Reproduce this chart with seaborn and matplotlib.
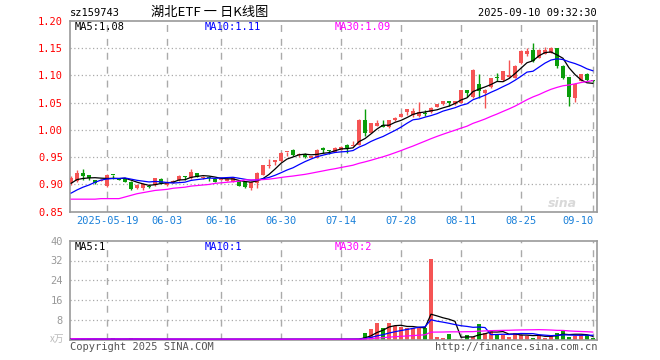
import numpy as np
import pandas as pd
import matplotlib
matplotlib.use("Agg")
import matplotlib.pyplot as plt
import seaborn as sns

# ---------------- data ----------------
start_date = "2025-05-09"
end_date = "2025-09-10"
holidays = ["2025-06-02"]

opens = [0.902,0.906,0.921,0.917,0.908,0.907,0.897,0.918,0.910,0.911,
         0.905,0.893,0.893,0.898,0.899,0.910,0.899,0.903,0.908,0.915,
         0.911,0.921,0.911,0.914,0.910,0.909,0.907,0.905,0.906,0.904,
         0.893,0.903,0.918,0.933,0.942,0.943,0.959,0.964,0.954,0.956,
         0.949,0.949,0.967,0.963,0.960,0.964,0.973,0.970,0.973,1.019,
         0.995,1.008,1.010,1.005,1.018,1.024,1.033,1.027,1.025,1.030,
         1.033,1.043,1.047,1.053,1.047,1.050,1.073,1.060,1.085,1.067,
         1.078,1.096,1.091,1.097,1.096,1.122,1.140,1.147,1.133,1.140,
         1.142,1.150,1.118,1.097,1.059,1.090,1.102,1.091]
highs = [0.915,0.926,0.929,0.918,0.909,0.910,0.919,0.918,0.911,0.912,
         0.906,0.900,0.902,0.899,0.912,0.911,0.906,0.908,0.917,0.915,
         0.928,0.921,0.915,0.916,0.911,0.912,0.911,0.914,0.907,0.905,
         0.906,0.922,0.936,0.947,0.944,0.959,0.960,0.965,0.958,0.957,
         0.953,0.965,0.969,0.964,0.968,0.970,0.974,0.980,1.020,1.038,
         1.013,1.019,1.019,1.019,1.023,1.031,1.039,1.041,1.052,1.037,
         1.042,1.048,1.054,1.054,1.054,1.074,1.074,1.111,1.102,1.075,
         1.096,1.104,1.109,1.128,1.119,1.146,1.150,1.160,1.148,1.152,
         1.152,1.151,1.119,1.098,1.087,1.103,1.105,1.092]
lows = [0.899,0.905,0.909,0.909,0.900,0.906,0.896,0.910,0.908,0.904,
        0.890,0.892,0.890,0.893,0.898,0.901,0.898,0.902,0.907,0.909,
        0.910,0.913,0.910,0.907,0.904,0.908,0.906,0.904,0.897,0.893,
        0.890,0.894,0.917,0.931,0.935,0.942,0.952,0.953,0.950,0.949,
        0.948,0.948,0.958,0.956,0.959,0.963,0.958,0.970,0.972,0.989,
        0.994,1.007,1.005,1.004,1.017,1.023,1.027,1.023,1.023,1.026,
        1.032,1.042,1.046,1.044,1.046,1.049,1.060,1.059,1.058,1.041,
        1.077,1.090,1.090,1.096,1.095,1.121,1.136,1.124,1.132,1.139,
        1.141,1.114,1.094,1.044,1.052,1.089,1.089,1.088]
closes = [0.912,0.921,0.916,0.911,0.902,0.908,0.918,0.917,0.909,0.905,
          0.891,0.899,0.901,0.896,0.911,0.902,0.905,0.907,0.916,0.914,
          0.923,0.914,0.914,0.912,0.905,0.911,0.910,0.913,0.898,0.895,
          0.905,0.921,0.935,0.936,0.944,0.958,0.960,0.954,0.956,0.950,
          0.952,0.964,0.964,0.962,0.967,0.969,0.967,0.971,1.019,0.995,
          1.012,1.012,1.006,1.018,1.022,1.030,1.038,1.035,1.033,1.029,
          1.041,1.047,1.053,1.049,1.053,1.073,1.067,1.110,1.072,1.073,
          1.095,1.095,1.108,1.101,1.118,1.145,1.145,1.126,1.147,1.147,
          1.151,1.118,1.095,1.060,1.085,1.102,1.091,1.090]
volumes = [0.4,0.3,0.3,0.3,0.2,0.2,0.2,0.5,0.2,0.2,
           0.5,0.2,0.2,0.2,0.2,0.2,0.2,0.2,0.2,0.2,
           0.2,0.2,0.2,0.2,0.2,0.2,0.2,0.2,0.2,0.2,
           0.2,0.2,0.2,0.2,0.2,0.2,0.2,0.2,0.2,0.2,
           0.2,0.2,0.2,0.2,0.2,0.2,0.3,0.2,0.3,2.8,
           4.3,6.9,4.8,6.9,5.5,5.0,4.6,4.6,5.2,4.6,
           32.5,1.2,0.8,2.3,0.3,0.3,1.9,0.9,6.3,2.6,
           3.9,1.7,1.9,1.2,2.8,1.9,1.5,0.8,1.9,0.8,
           1.9,2.8,3.9,0.9,1.5,1.9,1.9,0.5]

# moving-average values before a full window exists
ma5_head = [0.902, 0.909, 0.911, 0.912]
ma10_head = [0.884, 0.890, 0.895, 0.899, 0.904, 0.908, 0.910, 0.911, 0.911]
ma30_head = [0.873, 0.873, 0.873, 0.873, 0.873, 0.874, 0.874, 0.874, 0.874, 0.877,
             0.880, 0.883, 0.885, 0.887, 0.889, 0.890, 0.891, 0.893, 0.894, 0.895,
             0.897, 0.898, 0.899, 0.900, 0.902, 0.903, 0.904, 0.905, 0.906]

tick_dates = ["2025-05-19", "2025-06-03", "2025-06-16", "2025-06-30", "2025-07-14",
              "2025-07-28", "2025-08-11", "2025-08-25", "2025-09-10"]
tick_labels = ["2025-05-19", "06-03", "06-16", "06-30", "07-14", "07-28",
               "08-11", "08-25", "09-10"]
price_ticks = [0.85, 0.90, 0.95, 1.00, 1.05, 1.10, 1.15, 1.20]
vol_ticks = [8, 16, 24, 32, 40]

price_ma_labels = ["MA5:1.08", "MA10:1.11", "MA30:1.09"]
vol_ma_labels = ["MA5:1", "MA10:1", "MA30:2"]
title_code = "sz159743"
title_text = "湖北ETF 一 日K线图"
timestamp = "2025-09-10 09:32:30"
copyright_text = "Copyright 2025 SINA.COM"
url_text = "http://finance.sina.com.cn"
vol_unit = "x万"
watermark = "sina"

# ---------------- derived ----------------
dates = pd.bdate_range(start_date, end_date)
dates = dates[~dates.isin(pd.to_datetime(holidays))]
idx = np.arange(len(dates))
tick_pos = [int(np.where(dates == pd.Timestamp(d))[0][0]) for d in tick_dates]

o = np.array(opens); h = np.array(highs); l = np.array(lows); c = np.array(closes)
v = np.array(volumes)
s = pd.Series(c)
ma5 = s.rolling(5).mean().to_numpy(); ma5[:len(ma5_head)] = ma5_head
ma10 = s.rolling(10).mean().to_numpy(); ma10[:len(ma10_head)] = ma10_head
ma30 = s.rolling(30).mean().to_numpy(); ma30[:len(ma30_head)] = ma30_head
vs = pd.Series(v)
vma5 = vs.rolling(5, min_periods=1).mean().to_numpy()
vma10 = vs.rolling(10, min_periods=1).mean().to_numpy()
vma30 = vs.rolling(30, min_periods=1).mean().to_numpy()

RED = "#f55454"
GREEN = "#0a9d0a"
up = c >= o
colors = np.where(up, RED, GREEN)

# ---------------- plotting ----------------
sns.set_theme(style="white")
plt.rcParams["font.family"] = ["DejaVu Sans Mono", "DejaVu Sans"]

W, H = 660, 360
fig = plt.figure(figsize=(6.6, 3.6), dpi=100)
fig.patch.set_facecolor("white")

def fx(x):
    return x / W

def fy(y):
    return 1 - y / H

L, R = 70, 597
ax = fig.add_axes([fx(L), fy(211.7), (R - L) / W, (211.7 - 21) / H])
axv = fig.add_axes([fx(L), fy(339.7), (R - L) / W, (339.7 - 240.7) / H])

xlim = (-0.17, len(idx) - 1 + 0.67)
GRID = "#aaaaaa"
SPINE = "#999999"

for a in (ax, axv):
    a.set_xlim(*xlim)
    a.set_facecolor("white")
    for sp in a.spines.values():
        sp.set_color(SPINE)
        sp.set_linewidth(1.2)
        sp.set_visible(True)
    a.set_xticks([])
    a.tick_params(axis="both", length=0)
    for t in tick_pos:
        a.axvline(t, color=GRID, lw=1.0, ls=(0, (5, 5)), zorder=0)

# watermark (behind the data)
ax.text(0.935, 0.045, watermark, transform=ax.transAxes, color="#d9d9d9", fontsize=9,
        ha="center", va="center", style="italic", weight="bold", family="DejaVu Sans",
        zorder=1)

# price panel
ax.set_ylim(price_ticks[0], price_ticks[-1])
for p in price_ticks[1:-1]:
    ax.axhline(p, color=GRID, lw=0.9, ls=(0, (1, 2)), zorder=0)
ax.set_yticks(price_ticks)
ax.set_yticklabels([f"{p:.2f}" for p in price_ticks], color="red", fontsize=7.5)
ax.tick_params(axis="y", pad=5)

ax.vlines(idx, l, h, colors=colors, lw=1.0, zorder=2)
ax.bar(idx, np.maximum(np.abs(c - o), 0.0015), bottom=np.minimum(o, c),
       width=0.8, color=colors, linewidth=0, zorder=3)

sns.lineplot(x=idx, y=ma5, ax=ax, color="black", lw=0.9, zorder=4)
sns.lineplot(x=idx, y=ma10, ax=ax, color="#0000ff", lw=0.9, zorder=4)
sns.lineplot(x=idx, y=ma30, ax=ax, color="#ff00ff", lw=0.9, zorder=4)
ax.set_xlabel(""); ax.set_ylabel("")

# volume panel
axv.set_ylim(0, vol_ticks[-1])
for q in vol_ticks[:-1]:
    axv.axhline(q, color=GRID, lw=0.9, ls=(0, (1, 2)), zorder=0)
axv.set_yticks(vol_ticks)
axv.set_yticklabels([str(q) for q in vol_ticks], color="#999999", fontsize=7.5)
axv.tick_params(axis="y", pad=5)
axv.bar(idx, v, width=0.78, color=colors, linewidth=0, zorder=2)
sns.lineplot(x=idx, y=vma5, ax=axv, color="black", lw=0.9, zorder=4)
sns.lineplot(x=idx, y=vma10, ax=axv, color="#0000ff", lw=0.9, zorder=4)
sns.lineplot(x=idx, y=vma30, ax=axv, color="#ff00ff", lw=0.9, zorder=4)
axv.set_xlabel(""); axv.set_ylabel("")

# date labels
for k, (t, lab) in enumerate(zip(tick_pos, tick_labels)):
    xp = L + (t - xlim[0]) / (xlim[1] - xlim[0]) * (R - L)
    ha = "center"
    if k == len(tick_pos) - 1:
        ha = "right"
        xp = xp + 1
    fig.text(fx(xp), fy(221.5), lab, color="#1a80d9", fontsize=7.5,
             ha=ha, va="center")

# header texts
fig.text(fx(70), fy(13), title_code, color="black", fontsize=7.5, ha="left", va="center")
fig.text(fx(210), fy(12.5), title_text, color="black", fontsize=9.5, ha="center",
         va="center", family=["Noto Sans CJK SC", "DejaVu Sans"])
fig.text(fx(597), fy(13), timestamp, color="black", fontsize=7.5, ha="right", va="center")

ma_colors = ["black", "#0000ff", "#ff00ff"]
ma_x = [75, 205, 335]
for lab, col, xp in zip(price_ma_labels, ma_colors, ma_x):
    fig.text(fx(xp), fy(26.5), lab, color=col, fontsize=7.5, ha="left", va="center")
for lab, col, xp in zip(vol_ma_labels, ma_colors, ma_x):
    fig.text(fx(xp), fy(246.5), lab, color=col, fontsize=7.5, ha="left", va="center")

fig.text(fx(64), fy(339), vol_unit, color="#bbbbbb", fontsize=7, ha="right", va="center",
         family=["Noto Sans CJK SC", "DejaVu Sans"])
fig.text(fx(70), fy(347), copyright_text, color="#555555", fontsize=7.5, ha="left", va="center")
fig.text(fx(597), fy(347), url_text, color="#555555", fontsize=7.5, ha="right", va="center")

fig.savefig("out.png", dpi=100)
